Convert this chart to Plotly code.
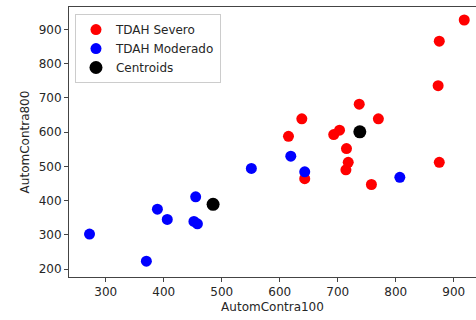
import plotly.graph_objects as go

# TDAH Severo (red)
severo_x = [918, 875, 873, 875, 737, 638, 770, 615, 703, 693, 715, 718, 714, 643, 758]
severo_y = [928, 866, 736, 512, 682, 639, 639, 588, 606, 593, 552, 512, 490, 464, 447]

# TDAH Moderado (blue)
moderado_x = [272, 370, 389, 406, 452, 458, 455, 551, 619, 643, 807]
moderado_y = [302, 223, 375, 345, 339, 332, 411, 494, 530, 484, 468]

# Centroids (black)
centroid_x = [738, 485]
centroid_y = [601, 389]

x_ticks = [300, 400, 500, 600, 700, 800, 900]
y_ticks = [200, 300, 400, 500, 600, 700, 800, 900]

font = dict(family="DejaVu Sans", size=12, color="#262626")

fig = go.Figure()
fig.add_trace(go.Scatter(x=severo_x, y=severo_y, mode="markers", name="TDAH Severo",
                         marker=dict(color="#ff0000", size=11, line=dict(width=0))))
fig.add_trace(go.Scatter(x=moderado_x, y=moderado_y, mode="markers", name="TDAH Moderado",
                         marker=dict(color="#0000ff", size=11, line=dict(width=0))))
fig.add_trace(go.Scatter(x=centroid_x, y=centroid_y, mode="markers", name="Centroids",
                         marker=dict(color="#000000", size=13, line=dict(width=0))))

axis_common = dict(showgrid=False, zeroline=False, showline=True, mirror=True,
                   linecolor="#444444", linewidth=1, ticks="outside", ticklen=4,
                   tickcolor="#444444", tickfont=font)

fig.update_layout(
    width=476, height=320,
    margin=dict(l=69, r=0, t=7, b=43),
    paper_bgcolor="white", plot_bgcolor="white",
    font=font,
    xaxis=dict(range=[236.6, 938.3], tickvals=x_ticks,
               title=dict(text="AutomContra100", font=font, standoff=4), **axis_common),
    yaxis=dict(range=[176.6, 966], tickvals=y_ticks,
               title=dict(text="AutomContra800", font=font, standoff=6), **axis_common),
    legend=dict(x=0.0147, y=0.974, xanchor="left", yanchor="top",
                bgcolor="rgba(255,255,255,0.8)", bordercolor="#cccccc", borderwidth=1,
                font=font, tracegroupgap=0, itemsizing="trace"),
    showlegend=True,
)

fig.write_html("out.html", config={"displayModeBar": False},
               post_script="document.body.style.margin='0';document.body.style.overflow='hidden';")
